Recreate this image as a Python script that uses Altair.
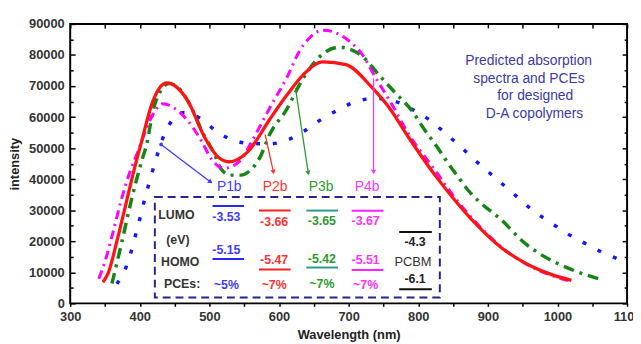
import math
import altair as alt
import pandas as pd

W, H = 564, 283
FONT = "Liberation Sans"

# ---- spectra (wavelength nm, intensity) ----
p1b_wl = [367, 380, 388, 395, 402, 408, 415, 422, 440, 464, 488, 512, 538, 561, 587, 613, 637, 663,
          689, 713, 739, 765, 788, 814, 838, 864, 888, 914, 940, 963, 989, 1013, 1039, 1063, 1089, 1100]
p1b_int = [6300, 11500, 17000, 23000, 29000, 34500, 40000, 45600, 56700, 61500, 59400, 55100, 52300, 51500,
           51400, 52700, 55600, 59600, 62800, 65200, 66000, 65200, 62900, 59400, 55000, 49800, 44800, 39800,
           34700, 30200, 26200, 22600, 19400, 16600, 14100, 13000]

p2b_wl = [347, 355, 367, 380, 391, 403, 417, 428, 439, 452, 469, 493, 512, 528, 555, 587, 611, 635, 663,
          696, 734, 758, 786, 824, 852, 881, 919, 956, 989, 1020]
p2b_int = [6800, 10000, 20000, 32000, 42300, 52500, 64000, 69300, 71000, 69800, 65200, 53500, 47200, 45600,
           48800, 59400, 67000, 73700, 77800, 76900, 69400, 63100, 53500, 41300, 33400, 26000, 18000, 12700,
           9500, 7400]

p3b_wl = [360, 374, 388, 403, 410, 419, 430, 442, 455, 474, 490, 507, 516, 530, 545, 559, 573, 587, 611,
          632, 660, 687, 700, 720, 743, 767, 791, 810, 824, 843, 857, 871, 890, 919, 952, 975, 1018, 1065]
p3b_int = [6400, 19600, 33400, 46100, 51400, 62000, 68500, 70800, 69500, 63100, 55100, 48200, 43500, 41300,
           41300, 42900, 47200, 54600, 62500, 71500, 79800, 82500, 82000, 79500, 73700, 67800, 62000, 55600,
           51400, 45100, 40800, 36600, 32300, 27000, 19600, 15900, 11100, 7500]

p4b_wl = [341, 350, 361, 373, 386, 398, 410, 422, 433, 452, 469, 488, 504, 521, 545, 559, 587, 611, 630,
          645, 663, 696, 720, 739, 762, 786, 824, 852, 881, 919, 956, 989, 1020]
p4b_int = [7950, 13500, 22500, 33000, 42500, 49300, 56700, 62000, 64300, 62500, 58800, 52500, 46100, 43500,
           46100, 51400, 63100, 72600, 81500, 85800, 88000, 85300, 80000, 72600, 64100, 54600, 42900, 34200,
           26500, 18200, 12600, 9200, 7000]

# ---- annotation contents ----
series_names = ["P1b", "P2b", "P3b", "P4b"]
series_colors = ["#3C3CFF", "#FF3232", "#2E9A2E", "#FF32FF"]
lumo_vals = ["-3.53", "-3.66", "-3.65", "-3.67"]
homo_vals = ["-5.15", "-5.47", "-5.42", "-5.51"]
pce_vals = ["~5%", "~7%", "~7%", "~7%"]
level_colors = ["#2828F0", "#FF2020", "#2A9A8E", "#FF20FF", "#111111"]
title_lines = ["Predicted absorption", "spectra and PCEs", "for designed", "D-A copolymers"]
row_headers = ["LUMO", "(eV)", "HOMO", "PCEs:"]
pcbm_lumo, pcbm_homo = "-4.3", "-6.1"

# annotation anchor positions (data coordinates)
lab_x = [528.5, 594.3, 660.5, 726.5]
val_x = [524.3, 593.0, 661.5, 724.4]
lumo_txt_y = [27760, 26080, 26390, 26390]
homo_txt_y = [17080, 13990, 14310, 13900]
pce_txt_y = [6040, 6040, 6360, 6040]
lvl_x1 = [504.4, 571.1, 639.2, 704.5, 772.7]
lvl_x2 = [549.8, 616.5, 684.7, 750.0, 819.5]
lumo_lvl_y = [31390, 29890, 29890, 29800, 22990]
homo_lvl_y = [14310, 10910, 11540, 10720, 4550]
arrow_start = [(430.6, 51200), (580.0, 54400), (623.6, 69300), (735.8, 72500)]
arrow_end = [(501.6, 39100), (592.0, 42300), (642.0, 42000), (735.8, 42300)]

xs = alt.Scale(domain=[300, 1100], nice=False, zero=False)
ys = alt.Scale(domain=[0, 90000], nice=False, zero=False)

tick_cond = {"condition": {"test": "datum.value % 10000 === 0", "value": 5}, "value": 3}

x_main = alt.Axis(values=list(range(300, 1101, 50)),
                  labelExpr="datum.value % 100 === 0 ? datum.label : ''",
                  format="d", tickSize=3, tickWidth=1.5, tickColor="black", labelPadding=4,
                  domain=False, grid=False, labelFont=FONT, labelFontWeight="bold", labelFontSize=13,
                  labelColor="#333333", labelOverlap=False, labelFlush=False,
                  title="Wavelength (nm)", titleFont=FONT, titleFontSize=13, titleFontWeight="bold",
                  titleColor="#222222", titlePadding=6)
y_main = alt.Axis(values=list(range(0, 90001, 10000)), format="d", ticks=False, labelPadding=6,
                  domain=False, grid=False, labelFont=FONT, labelFontWeight="bold", labelFontSize=13,
                  labelColor="#333333", title="intensity", titleFont=FONT, titleFontSize=13,
                  titleFontWeight="bold", titleColor="#222222", titlePadding=7)
x_top = alt.Axis(orient="bottom", offset=-H, values=list(range(300, 1101, 50)), labels=False,
                 tickSize=4, tickWidth=1.5, tickColor="black", domain=False, grid=False, title=None)
y_leftin = alt.Axis(orient="right", offset=-W, values=list(range(0, 90001, 5000)), labels=False,
                    tickSize=tick_cond, tickWidth=1.5, tickColor="black", domain=False, grid=False, title=None)
y_rightin = alt.Axis(orient="left", offset=-W, values=list(range(0, 90001, 5000)), labels=False,
                     tickSize=tick_cond, tickWidth=1.5, tickColor="black", domain=False, grid=False, title=None)


def sdf(wl, it):
    return pd.DataFrame({"wl": wl, "inten": it})


blue = alt.Chart(sdf(p1b_wl, p1b_int)).mark_line(
    color="#1414FF", strokeWidth=3.5, strokeDash=[4, 13], interpolate="monotone", clip=True
).encode(x=alt.X("wl:Q", scale=xs, axis=x_main), y=alt.Y("inten:Q", scale=ys, axis=y_main))

green = alt.Chart(sdf(p3b_wl, p3b_int)).mark_line(
    color="#168516", strokeWidth=3.5, strokeDash=[11, 6, 3, 6], interpolate="monotone"
).encode(x=alt.X("wl:Q", scale=xs, axis=x_top), y=alt.Y("inten:Q", scale=ys, axis=y_leftin))

magenta = alt.Chart(sdf(p4b_wl, p4b_int)).mark_line(
    color="#FF00FF", strokeWidth=3, strokeDash=[9, 5, 2, 5], interpolate="monotone"
).encode(x=alt.X("wl:Q", scale=xs, axis=None), y=alt.Y("inten:Q", scale=ys, axis=y_rightin))

red = alt.Chart(sdf(p2b_wl, p2b_int)).mark_line(
    color="#FF1414", strokeWidth=3.3, interpolate="monotone"
).encode(x=alt.X("wl:Q", scale=xs, axis=None), y=alt.Y("inten:Q", scale=ys, axis=None))


def X(f):
    return alt.X(f, scale=xs, axis=None)


def Y(f):
    return alt.Y(f, scale=ys, axis=None)


box_df = pd.DataFrame({"x": [421.6], "x2": [831.0], "y": [1900], "y2": [34250]})
box = alt.Chart(box_df).mark_rect(fill="white", fillOpacity=0, stroke="#24248C", strokeWidth=2,
                                  strokeDash=[8, 5]).encode(
    x=X("x:Q"), x2="x2:Q", y=Y("y:Q"), y2="y2:Q")

lvl_rows = []
for i in range(5):
    for yy in (lumo_lvl_y[i], homo_lvl_y[i]):
        lvl_rows.append({"x": lvl_x1[i], "x2": lvl_x2[i], "y": yy, "c": level_colors[i]})
levels = alt.Chart(pd.DataFrame(lvl_rows)).mark_rule(strokeWidth=2).encode(
    x=X("x:Q"), x2="x2:Q", y=Y("y:Q"), color=alt.Color("c:N", scale=None))

# arrows
ax_rows, head_rows = [], []
kx, ky = W / 800.0, H / 90000.0
for i in range(4):
    (x1, y1), (x2, y2) = arrow_start[i], arrow_end[i]
    ax_rows.append({"id": i, "o": 0, "x": x1, "y": y1, "c": series_colors[i]})
    ax_rows.append({"id": i, "o": 1, "x": x2, "y": y2, "c": series_colors[i]})
    dxp, dyp = (x2 - x1) * kx, -(y2 - y1) * ky
    ang = math.degrees(math.atan2(dxp, -dyp)) % 360
    head_rows.append({"x": x2, "y": y2, "a": ang, "c": series_colors[i]})
arrows = alt.Chart(pd.DataFrame(ax_rows)).mark_line(strokeWidth=1.3).encode(
    x=X("x:Q"), y=Y("y:Q"), detail="id:N", order="o:Q", color=alt.Color("c:N", scale=None))
heads = alt.Chart(pd.DataFrame(head_rows)).mark_point(shape="triangle-up", filled=True, size=28,
                                                       opacity=1).encode(
    x=X("x:Q"), y=Y("y:Q"), angle=alt.Angle("a:Q", scale=None), color=alt.Color("c:N", scale=None))
start_dot = alt.Chart(pd.DataFrame([{"x": arrow_start[0][0], "y": arrow_start[0][1]}])).mark_point(
    shape="circle", filled=True, size=14, color=series_colors[0], opacity=1).encode(x=X("x:Q"), y=Y("y:Q"))


def text_layer(rows, size, weight, color=None):
    df = pd.DataFrame(rows)
    kw = dict(font=FONT, fontSize=size, fontWeight=weight, align="center", baseline="middle")
    if color is not None:
        return alt.Chart(df).mark_text(color=color, **kw).encode(x=X("x:Q"), y=Y("y:Q"), text="t:N")
    return alt.Chart(df).mark_text(**kw).encode(x=X("x:Q"), y=Y("y:Q"), text="t:N",
                                                 color=alt.Color("c:N", scale=None))


title_x = [958.6, 959.0, 968.0, 967.0]
title_y = [77900, 72400, 66800, 61000]
t_title = text_layer([{"x": title_x[i], "y": title_y[i], "t": title_lines[i]} for i in range(4)],
                     14, "normal", "#3A3AA6")
t_labels = text_layer([{"x": lab_x[i], "y": 37500, "t": series_names[i], "c": series_colors[i]}
                       for i in range(4)], 14, "normal")
hdr_x = [452.6, 454.7, 458.0, 460.8]
hdr_y = [28300, 20350, 13450, 6360]
t_hdr = text_layer([{"x": hdr_x[i], "y": hdr_y[i], "t": row_headers[i]} for i in range(4)],
                   12.5, "bold", "#333333")
val_rows = []
for i in range(4):
    val_rows.append({"x": val_x[i], "y": lumo_txt_y[i], "t": lumo_vals[i], "c": series_colors[i]})
    val_rows.append({"x": val_x[i], "y": homo_txt_y[i], "t": homo_vals[i], "c": series_colors[i]})
    val_rows.append({"x": val_x[i], "y": pce_txt_y[i], "t": pce_vals[i], "c": series_colors[i]})
val_rows.append({"x": 795.4, "y": 19620, "t": pcbm_lumo, "c": "#222222"})
val_rows.append({"x": 795.4, "y": 7730, "t": pcbm_homo, "c": "#222222"})
t_vals = text_layer(val_rows, 12.5, "bold")
t_pcbm = text_layer([{"x": 792.5, "y": 13360, "t": "PCBM"}], 13, "normal", "#333333")

chart = alt.layer(
    blue, green, magenta, red, box, levels, arrows, heads, start_dot,
    t_title, t_labels, t_hdr, t_vals, t_pcbm
).resolve_axis(x="independent", y="independent").properties(
    width=W, height=H,
    padding={"left": 63, "top": 14, "right": 6, "bottom": 39},
    autosize=alt.AutoSizeParams(type="none"),
    background="white",
).configure_view(stroke="black", strokeWidth=2)

chart.save("out.html", embed_options={"renderer": "svg", "actions": False})
